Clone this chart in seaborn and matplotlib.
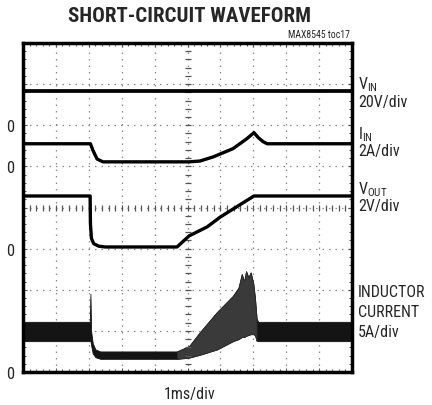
import numpy as np
import matplotlib
matplotlib.use("Agg")
import matplotlib.pyplot as plt
from matplotlib.ticker import MultipleLocator
from matplotlib import font_manager as fm
import seaborn as sns

# ---- data (time in ms, amplitude in scope divisions) ----
t_vin = [0.0, 10.0]
vin = [6.84, 6.84]

t_iin = [0.0, 2.05, 2.12, 2.25, 2.43, 5.05, 5.38, 5.78, 6.38, 6.8, 7.02, 7.15, 7.3, 7.42, 10.0]
iin = [5.55, 5.55, 5.4, 5.18, 5.11, 5.11, 5.13, 5.23, 5.43, 5.67, 5.82, 5.7, 5.6, 5.55, 5.55]

t_vout = [0.0, 2.04, 2.05, 2.08, 2.15, 2.3, 2.5, 4.68, 5.05, 5.6, 6.0, 6.5, 7.02, 10.0]
vout = [4.28, 4.28, 3.6, 3.25, 3.12, 3.06, 3.04, 3.04, 3.31, 3.53, 3.77, 4.02, 4.28, 4.28]

t_ind = [0.0, 2.03, 2.05, 2.07, 2.12, 2.2, 2.35, 4.68, 5.05, 5.38, 5.9, 6.38,
         6.55, 6.65, 6.72, 6.78, 6.85, 6.92, 7.0, 7.05, 7.1, 7.15, 10.0]
ind_hi = [1.22, 1.22, 1.9, 1.0, 0.7, 0.55, 0.5, 0.5, 0.63, 0.97, 1.46, 1.85,
          2.05, 2.38, 2.2, 2.45, 2.3, 2.42, 2.15, 1.8, 1.3, 1.22, 1.22]
ind_lo = [0.75, 0.75, 0.75, 0.65, 0.45, 0.36, 0.32, 0.32, 0.35, 0.42, 0.55, 0.75,
          0.8, 0.85, 0.85, 0.88, 0.9, 0.92, 0.92, 0.9, 0.76, 0.75, 0.75]

zero_levels = [0, 3, 5, 6]
zero_labels = ["0", "0", "0", "0"]

# ---- styling ----
sns.set_theme(style="white")
available = {f.name for f in fm.fontManager.ttflist}
prefs = ['Roboto Condensed', 'Archivo Narrow', 'PT Sans Narrow', 'Liberation Sans Narrow',
         'Fira Sans Condensed', 'IBM Plex Sans Condensed', 'Liberation Sans']
fams = [f for f in prefs if f in available] + ['DejaVu Sans']
plt.rcParams['font.family'] = fams

fig = plt.figure(figsize=(4.32, 4.06), dpi=100)
ax = fig.add_axes([23/432, 1-373/406, 329/432, 329/406])

ax.set_xlim(0, 10)
ax.set_ylim(0, 8)

# grid
ax.xaxis.set_major_locator(MultipleLocator(1))
ax.yaxis.set_major_locator(MultipleLocator(1))
ax.xaxis.set_minor_locator(MultipleLocator(0.2))
ax.yaxis.set_minor_locator(MultipleLocator(0.2))
ax.grid(True, which='major', color='#8a8a8a', linestyle=(0, (1.2, 4)), linewidth=0.9)
ax.tick_params(which='both', direction='in', top=True, right=True, bottom=True, left=True,
               color='#555555', width=0.8)
ax.tick_params(which='major', length=3)
ax.tick_params(which='minor', length=2.5)

# center lines with small ticks
cy = np.arange(0, 8.01, 0.2)
cx = np.arange(0, 10.01, 0.2)
ax.plot(np.full_like(cy, 5.0), cy, ls='none', marker='_', ms=5, mew=0.9, color='#555555')
ax.plot(cx, np.full_like(cx, 4.0), ls='none', marker='|', ms=5, mew=0.9, color='#555555')

# inductor current band
t_ind_a = np.array(t_ind)
ax.fill_between(t_ind, ind_lo, ind_hi, color='#141414', linewidth=0.6, edgecolor='#141414')
ramp = (t_ind_a >= 4.6) & (t_ind_a <= 7.12)
ax.fill_between(t_ind_a[ramp], np.array(ind_lo)[ramp], np.array(ind_hi)[ramp],
                color='#3a3a3a', linewidth=0.6, edgecolor='#2a2a2a')

# traces
for tt, vv, lw in [(t_vin, vin, 2.7), (t_iin, iin, 2.4), (t_vout, vout, 2.4)]:
    sns.lineplot(x=tt, y=vv, ax=ax, color='black', linewidth=lw, estimator=None, sort=False)

# axes text
ax.set_xticklabels([])
ax.set_yticks(list(range(0, 9)))
labels = ["" for _ in range(9)]
for lv, lb in zip(zero_levels, zero_labels):
    labels[lv] = lb
ax.set_yticklabels(labels, fontsize=12)
ax.tick_params(axis='y', which='major', pad=6)
ax.set_xlabel("")
ax.set_ylabel("")

for s in ax.spines.values():
    s.set_color('black')
    s.set_linewidth(2.5)

fig.text(189/432, 1-16/406, "SHORT-CIRCUIT WAVEFORM", ha='center', va='center',
         fontsize=15, fontweight='black')
fig.text(350/432, 1-35/406, "MAX8545 toc17", ha='right', va='center', fontsize=7)
fig.text(190/432, 1-395/406, "1ms/div", ha='center', va='center', fontsize=11.5)

rx = 358/432
right_labels = [(85, r"$\mathregular{V_{IN}}$"), (102, "20V/div"),
                (135, r"$\mathregular{I_{IN}}$"), (152, "2A/div"),
                (190, r"$\mathregular{V_{OUT}}$"), (207, "2V/div"),
                (293, "INDUCTOR"), (313, "CURRENT"), (333, "5A/div")]
for py, txt in right_labels:
    fig.text(rx, 1-py/406, txt, ha='left', va='center', fontsize=11.5)

fig.savefig("out.png", dpi=100)
